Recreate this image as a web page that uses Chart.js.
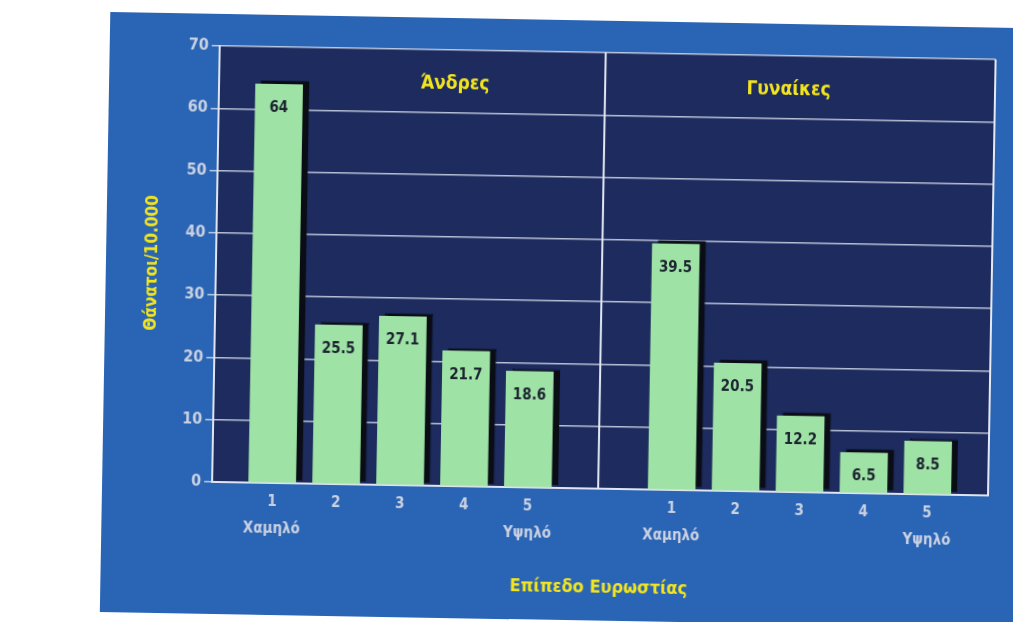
<!DOCTYPE html>
<html><head><meta charset="utf-8">
<script src="https://cdn.jsdelivr.net/npm/chart.js@4.4.0/dist/chart.umd.min.js"></script>
<style>
html,body{margin:0;padding:0;background:#fff;width:1013px;height:622px;overflow:hidden;}
#panel{position:absolute;left:105px;top:20px;width:915px;height:600px;background:#2a64b4;transform:rotate(1deg);transform-origin:50% 50%;}
canvas{display:block}
</style></head><body>
<div id="panel"><canvas id="c" width="915" height="600"></canvas></div>
<script>
// ---- data ----
const levels = ['1', '2', '3', '4', '5'];
const levelNames = ['Χαμηλό', '', '', '', 'Υψηλό'];
const groups = ['Άνδρες', 'Γυναίκες'];
const men = [64, 25.5, 27.1, 21.7, 18.6];
const women = [39.5, 20.5, 12.2, 6.5, 8.5];
const yTicks = [0, 10, 20, 30, 40, 50, 60, 70];
const yTitle = 'Θάνατοι/10.000';
const xTitle = 'Επίπεδο Ευρωστίας';

// ---- layout (not data) ----
const groupStart = [1, 7.25];
const dividerAt = 6.1;
const groupTitleAt = [3.75, 8.97];
const FONT = "'Liberation Sans Narrow','DejaVu Sans Condensed','Roboto Condensed',sans-serif";
const NAVY = '#1d2b5e', GREEN = '#9fe2a6', YELLOW = '#f2e41e', TICK = '#c9d1e2', LINE = 'rgba(210,218,235,0.85)';

const series = [men, women];
const toPts = (arr, g) => arr.map((v, i) => ({x: groupStart[g] + i, y: v}));
const tickPos = [];
const tickLab = [];
series.forEach((arr, g) => arr.forEach((v, i) => {
  tickPos.push(groupStart[g] + i);
  tickLab.push(levelNames[i] ? [levels[i], levelNames[i]] : levels[i]);
}));

const bgPlugin = {
  id: 'bg',
  beforeDraw(chart) {
    const {ctx, chartArea: a} = chart;
    ctx.save(); ctx.fillStyle = NAVY;
    ctx.fillRect(a.left, a.top, a.right - a.left, a.bottom - a.top);
    ctx.restore();
  },
  beforeDatasetsDraw(chart) {
    const {ctx, chartArea: a, scales} = chart;
    ctx.save(); ctx.strokeStyle = '#e4e9f3'; ctx.lineWidth = 2;
    const xd = scales.x.getPixelForValue(dividerAt);
    ctx.beginPath(); ctx.moveTo(xd, a.top); ctx.lineTo(xd, a.bottom); ctx.stroke();
    ctx.beginPath(); ctx.moveTo(a.right, a.top); ctx.lineTo(a.right, a.bottom); ctx.stroke();
    ctx.restore();
  },
  beforeDatasetDraw(chart) {
    const ctx = chart.ctx; ctx.save();
    ctx.shadowColor = '#0a0c16'; ctx.shadowOffsetX = 6; ctx.shadowOffsetY = -3; ctx.shadowBlur = 1;
  },
  afterDatasetDraw(chart) { chart.ctx.restore(); },
  afterDatasetsDraw(chart) {
    const {ctx, scales} = chart;
    ctx.save();
    ctx.textAlign = 'center'; ctx.textBaseline = 'middle';
    ctx.font = 'bold 15px ' + FONT; ctx.fillStyle = '#1c2430';
    chart.data.datasets.forEach((ds, di) => {
      chart.getDatasetMeta(di).data.forEach((bar, i) => {
        ctx.fillText(String(series[di][i]), bar.x, bar.y + 24);
      });
    });
    ctx.font = 'bold 19px ' + FONT; ctx.fillStyle = YELLOW;
    groups.forEach((g, gi) => {
      ctx.fillText(g, scales.x.getPixelForValue(groupTitleAt[gi]), scales.y.getPixelForValue(64.5));
    });
    ctx.restore();
  }
};

new Chart(document.getElementById('c'), {
  type: 'bar',
  data: {
    datasets: series.map((arr, g) => ({
      label: groups[g], data: toPts(arr, g), backgroundColor: GREEN,
      barThickness: 47, grouped: false, borderWidth: 0
    }))
  },
  options: {
    responsive: false, animation: false, devicePixelRatio: 1,
    layout: {padding: {top: 32, right: 29, bottom: 0, left: 0}},
    plugins: {legend: {display: false}, tooltip: {enabled: false}},
    scales: {
      x: {
        type: 'linear', min: 0.06, max: 12.2, offset: false,
        grid: {display: false, drawTicks: false},
        border: {display: true, color: '#dfe5f0', width: 2},
        afterBuildTicks: s => { s.ticks = tickPos.map(v => ({value: v})); },
        afterFit: s => { s.height = 132; },
        ticks: {
          autoSkip: false, maxRotation: 0, minRotation: 0, padding: 6,
          color: TICK, font: {family: FONT, size: 15, weight: 'bold', lineHeight: 1.8},
          callback: (v, i) => tickLab[i]
        },
        title: {display: true, text: xTitle, color: YELLOW,
          font: {family: FONT, size: 18, weight: 'bold'}, padding: {top: 0, bottom: 22}}
      },
      y: {
        min: 0, max: 70,
        afterBuildTicks: s => { s.ticks = yTicks.map(v => ({value: v})); },
        afterFit: s => { s.width = 110; },
        grid: {color: LINE, lineWidth: 1.5, tickLength: 8, drawTicks: true},
        border: {display: true, color: '#dfe5f0', width: 2},
        ticks: {color: TICK, padding: 3, font: {family: FONT, size: 16, weight: 'bold'}},
        title: {display: true, text: yTitle, color: YELLOW,
          font: {family: FONT, size: 17, weight: 'bold'}, padding: {top: 36, bottom: 0}}
      }
    }
  },
  plugins: [bgPlugin]
});
</script>
</body></html>
